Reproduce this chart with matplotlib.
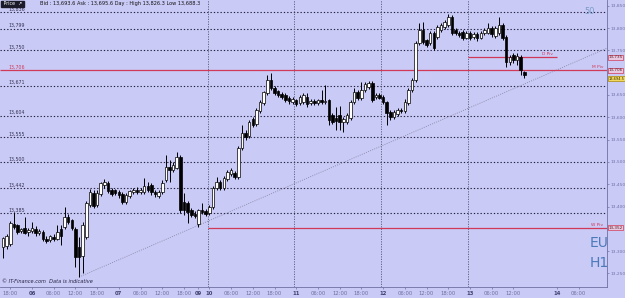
import matplotlib
matplotlib.use("Agg")
import matplotlib.pyplot as plt
import numpy as np

# ---------------- data ----------------
opens = [13309, 13312, 13315, 13360, 13359, 13345, 13352, 13342, 13345, 13350,
         13340, 13343, 13328, 13324, 13332, 13328, 13350, 13355, 13377, 13370,
         13350, 13310, 13290, 13332, 13404, 13430, 13403, 13428, 13448, 13452,
         13438, 13436, 13432, 13428, 13410, 13424, 13432, 13438, 13432, 13432,
         13446, 13448, 13433, 13424, 13433, 13460, 13489, 13482, 13487, 13511,
         13410, 13408, 13392, 13384, 13361, 13392, 13390, 13386, 13399, 13442,
         13455, 13442, 13462, 13473, 13475, 13466, 13531, 13565, 13558, 13596,
         13585, 13614, 13632, 13655, 13684, 13666, 13658, 13652, 13650, 13643,
         13634, 13638, 13632, 13634, 13645, 13632, 13636, 13633, 13638, 13634,
         13638, 13605, 13598, 13605, 13590, 13590, 13598, 13634, 13657, 13643,
         13661, 13668, 13677, 13645, 13650, 13645, 13634, 13612, 13601, 13608,
         13616, 13614, 13632, 13661, 13684, 13767, 13796, 13773, 13767, 13789,
         13780, 13796, 13802, 13807, 13825, 13796, 13789, 13791, 13778, 13789,
         13780, 13787, 13778, 13789, 13790, 13800, 13782, 13789, 13807, 13780,
         13724, 13740, 13728, 13735, 13701]
highs = [13332, 13338, 13368, 13388, 13362, 13353, 13377, 13352, 13366, 13356,
         13350, 13348, 13333, 13336, 13338, 13359, 13359, 13399, 13384, 13373,
         13355, 13332, 13366, 13413, 13440, 13437, 13437, 13455, 13462, 13458,
         13442, 13440, 13438, 13432, 13430, 13438, 13442, 13444, 13442, 13464,
         13455, 13453, 13437, 13437, 13460, 13516, 13504, 13500, 13522, 13516,
         13430, 13412, 13397, 13390, 13395, 13408, 13395, 13404, 13446, 13466,
         13460, 13468, 13482, 13486, 13480, 13536, 13583, 13572, 13594, 13600,
         13620, 13638, 13660, 13695, 13699, 13670, 13662, 13656, 13654, 13648,
         13645, 13642, 13650, 13654, 13654, 13642, 13640, 13642, 13661, 13672,
         13642, 13610, 13623, 13625, 13600, 13610, 13638, 13666, 13661, 13679,
         13680, 13682, 13682, 13654, 13655, 13650, 13637, 13616, 13616, 13620,
         13620, 13640, 13665, 13688, 13770, 13811, 13813, 13776, 13793, 13793,
         13807, 13811, 13818, 13832, 13829, 13800, 13793, 13795, 13793, 13793,
         13791, 13791, 13793, 13800, 13811, 13804, 13804, 13825, 13811, 13784,
         13740, 13745, 13744, 13740, 13704]
lows = [13285, 13305, 13312, 13350, 13338, 13340, 13338, 13334, 13340, 13335,
        13336, 13323, 13318, 13320, 13322, 13325, 13314, 13350, 13360, 13348,
        13265, 13242, 13250, 13328, 13400, 13397, 13398, 13424, 13442, 13430,
        13424, 13425, 13420, 13405, 13406, 13420, 13428, 13428, 13428, 13428,
        13433, 13426, 13422, 13420, 13428, 13455, 13455, 13478, 13484, 13386,
        13381, 13363, 13377, 13375, 13354, 13383, 13379, 13380, 13395, 13438,
        13437, 13438, 13458, 13468, 13462, 13462, 13527, 13550, 13554, 13578,
        13580, 13610, 13628, 13650, 13662, 13650, 13645, 13641, 13634, 13630,
        13630, 13625, 13628, 13629, 13622, 13628, 13628, 13628, 13630, 13630,
        13583, 13585, 13572, 13572, 13567, 13585, 13594, 13630, 13638, 13639,
        13657, 13664, 13634, 13640, 13640, 13630, 13583, 13594, 13596, 13603,
        13610, 13610, 13628, 13657, 13680, 13762, 13764, 13757, 13762, 13751,
        13776, 13791, 13798, 13802, 13784, 13784, 13780, 13773, 13775, 13773,
        13775, 13771, 13775, 13784, 13786, 13780, 13778, 13784, 13773, 13713,
        13717, 13722, 13717, 13695, 13688]
closes = [13330, 13335, 13363, 13355, 13343, 13350, 13341, 13347, 13352, 13340,
          13345, 13327, 13323, 13333, 13327, 13343, 13333, 13377, 13366, 13352,
          13287, 13288, 13359, 13408, 13433, 13402, 13430, 13453, 13455, 13435,
          13428, 13430, 13426, 13411, 13425, 13435, 13438, 13432, 13437, 13446,
          13437, 13433, 13428, 13433, 13453, 13489, 13482, 13493, 13511, 13392,
          13392, 13388, 13381, 13379, 13392, 13388, 13384, 13399, 13442, 13455,
          13442, 13464, 13477, 13482, 13466, 13531, 13565, 13556, 13589, 13583,
          13616, 13634, 13657, 13684, 13666, 13655, 13650, 13646, 13639, 13636,
          13640, 13630, 13645, 13650, 13630, 13637, 13633, 13638, 13634, 13637,
          13594, 13589, 13592, 13589, 13596, 13605, 13634, 13657, 13643, 13661,
          13675, 13677, 13639, 13650, 13644, 13634, 13610, 13601, 13612, 13616,
          13614, 13634, 13661, 13684, 13767, 13796, 13769, 13762, 13789, 13755,
          13802, 13807, 13813, 13825, 13789, 13789, 13784, 13778, 13789, 13778,
          13786, 13778, 13789, 13796, 13800, 13786, 13800, 13807, 13778, 13724,
          13735, 13728, 13738, 13706, 13694.5]

# sessions: (day label, first hour, end hour)
sessions = [("05", 16, 24), ("06", 0, 24), ("07", 0, 22), ("09", 21, 24),
            ("10", 0, 24), ("11", 0, 24), ("12", 0, 24), ("13", 0, 16)]
future_ticks = [("14", 0), ("14", 6)]

level_prices = [13836, 13799, 13750, 13671, 13604, 13555, 13500, 13442, 13385]
level_labels = ["13,836", "13,799", "13,750", "13,671", "13,604", "13,555",
                "13,500", "13,442", "13,385"]
pivot_names = ["M Piv", "D Piv", "W Piv"]
pivot_prices = [13706, 13735, 13352]
pivot_start_day = [None, "13", "10"]
trend_end_price = 13755
yticks = list(range(13250, 13851, 50))
covered_ticks = [13350, 13700]
header = "Bid : 13,693.6 Ask : 13,695.6 Day : High 13,826.3 Low 13,688.3"

# ---------------- layout ----------------
BG = "#CACAF6"
fig = plt.figure(figsize=(6.25, 2.98), dpi=100, facecolor=BG)
ax = fig.add_axes([0, 11 / 298, 607 / 625, 287 / 298], facecolor=BG)

n = len(closes)
idx = np.arange(n)
o = np.array(opens, float); c = np.array(closes, float)
h = np.array(highs, float); l = np.array(lows, float)

# time axis from sessions
tick_pos, tick_lab, tick_bold = [], [], []
day_start = {}
k = 0
for day, h0, h1 in sessions:
    for hr in range(h0, h1):
        if hr == 0 or (day == "09" and hr == h0):
            tick_pos.append(k); tick_lab.append(day); tick_bold.append(True)
            day_start[day] = k
        elif hr % 6 == 0:
            tick_pos.append(k); tick_lab.append("%02d:00" % hr); tick_bold.append(False)
        k += 1
last_day_start = day_start["13"]
for day, hr in future_ticks:
    p = last_day_start + 24 + hr
    tick_pos.append(p)
    tick_lab.append(day if hr == 0 else "%02d:00" % hr)
    tick_bold.append(hr == 0)

XMIN, XMAX = -0.83, 166.85
ax.set_xlim(XMIN, XMAX)
ax.set_ylim(13219.7, 13862.9)

# horizontal dotted levels
for pr, lb in zip(level_prices, level_labels):
    ax.axhline(pr, color="#222244", lw=0.8, ls=(0, (1.2, 1.8)), zorder=1)
    ax.text(1.5, pr + 1, lb, fontsize=3.4, color="#333355", va="bottom", ha="left", zorder=3)

# day separators
for d in ["10", "11", "12", "13"]:
    ax.axvline(day_start[d] - 0.5, color="#555577", lw=0.6, ls=(0, (1.5, 1.5)), zorder=1)

# pivot lines
RED = "#D03A58"
for name, pr, sd in zip(pivot_names, pivot_prices, pivot_start_day):
    x0 = XMIN if sd is None else day_start[sd] - 0.5
    x1 = XMAX if name != "D Piv" else day_start["13"] + 24
    ax.plot([x0, x1], [pr, pr], color=RED, lw=0.9, zorder=2, solid_capstyle="butt")
    ax.text(x1 - 1.0, pr + 3, name, fontsize=3.2, color=RED, ha="right", va="bottom", zorder=3)
ax.text(1.5, pivot_prices[0] + 1, "13,706", fontsize=3.4, color=RED, va="bottom", ha="left")

# trend line from lowest low
imin = int(np.argmin(l))
ax.plot([imin, XMAX], [l[imin], trend_end_price], color="#8888AA", lw=0.6,
        ls=(0, (1.2, 1.5)), zorder=1)

# candles
ax.vlines(idx, l, h, color="black", lw=0.7, zorder=4)
up = c >= o
ax.bar(idx[up], (c - o)[up], bottom=o[up], width=0.7, color="white",
       edgecolor="black", lw=0.5, zorder=5)
ax.bar(idx[~up], (o - c)[~up], bottom=c[~up], width=0.7, color="black",
       edgecolor="black", lw=0.5, zorder=5)

# axes styling
ax.yaxis.tick_right()
ax.set_yticks(yticks)
ax.set_yticklabels(["" if v in covered_ticks else "{:,}".format(v) for v in yticks])
ax.tick_params(axis="y", direction="out", length=1.5, width=0.5, pad=0.8,
               labelsize=3.2, colors="#7070A8")
ax.set_xticks(tick_pos)
ax.set_xticklabels(tick_lab)
ax.tick_params(axis="x", direction="out", length=1.5, width=0.5, pad=1.5,
               labelsize=3.8, colors="#7070A0")
for lab, b in zip(ax.get_xticklabels(), tick_bold):
    if b:
        lab.set_fontweight("bold")
        lab.set_color("#404070")
for side in ["top", "left"]:
    ax.spines[side].set_visible(False)
ax.spines["right"].set_color("#7070A0")
ax.spines["right"].set_linewidth(0.6)
ax.spines["bottom"].set_color("#7070A0")
ax.spines["bottom"].set_linewidth(0.6)

# value boxes on right axis
boxes = [("13,735", 13735, "#E8C8E0", RED, 0, 3.0), ("13,706", 13706, "#E8C8E0", RED, 0, 3.0),
         ("13,694.5", c[-1], "#F2D860", "#AA8800", -2.5, 2.6),
         ("13,352", 13352, "#E8C8E0", RED, 0, 3.0)]
for txt, pr, fc, ec, dy, fs in boxes:
    ax.annotate(txt, xy=(1.0, pr), xycoords=("axes fraction", "data"),
                xytext=(1.0, dy), textcoords="offset points", fontsize=fs,
                color="#552222" if ec == RED else "#333300", va="center", ha="left",
                bbox=dict(boxstyle="square,pad=0.12", fc=fc, ec=ec, lw=0.5),
                annotation_clip=False, zorder=6)

# header
ax.text(0.003, 0.995, " Price  \u2197 ", transform=ax.transAxes, fontsize=3.4,
        color="white", va="top", ha="left",
        bbox=dict(boxstyle="square,pad=0.15", fc="#1A1A2A", ec="#1A1A2A"))
ax.text(0.066, 0.995, header, transform=ax.transAxes, fontsize=3.6,
        color="#111111", va="top", ha="left")
ax.text(0.004, 0.012, "\u00a9 IT-Finance.com  Data is indicative", transform=ax.transAxes,
        fontsize=3.6, color="#222244", style="italic", va="bottom", ha="left")

ax.text(0.972, 0.975, "50", transform=ax.transAxes, fontsize=6, color="#7A9CC8",
        va="top", ha="center")
ax.text(0.987, 0.155, "EU", transform=ax.transAxes, fontsize=10, color="#4A7AB8",
        va="center", ha="center")
ax.text(0.987, 0.085, "H1", transform=ax.transAxes, fontsize=10, color="#4A7AB8",
        va="center", ha="center")

fig.savefig("out.png", dpi=100, facecolor=BG)
